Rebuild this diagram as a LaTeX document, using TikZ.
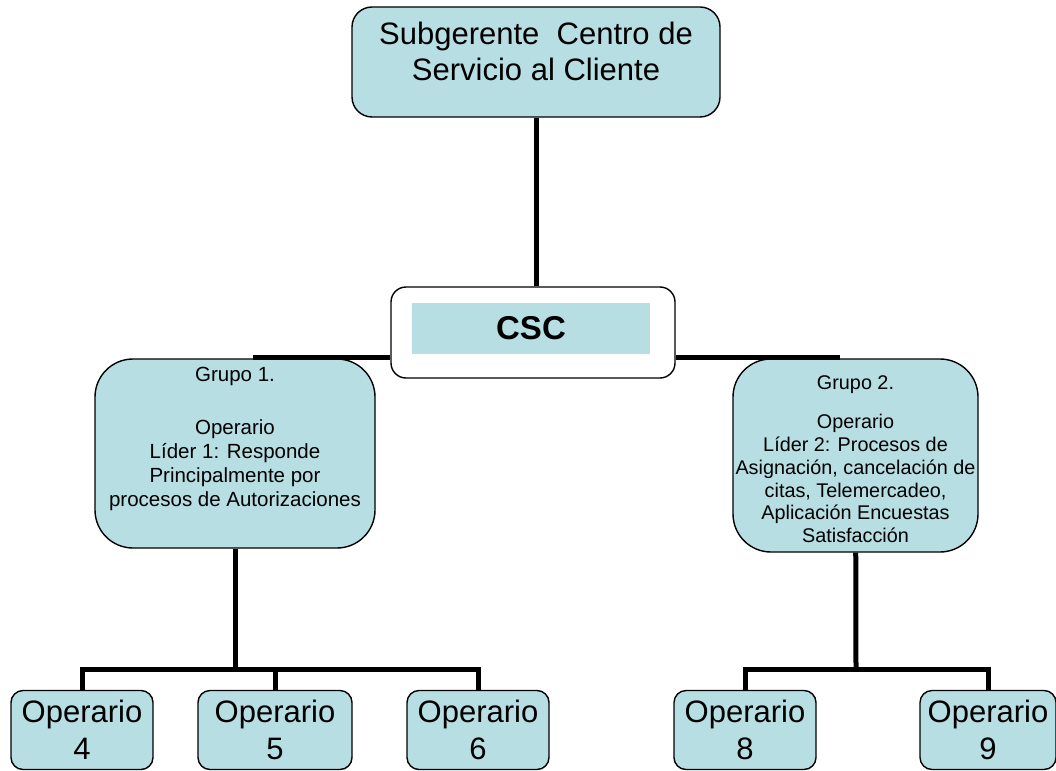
\documentclass[tikz,border=0pt]{standalone}
\usepackage{fontspec}
\setmainfont{Liberation Sans}
\definecolor{azulcaja}{RGB}{183,222,227}

\begin{document}
\begin{tikzpicture}[x=1pt, y=-1pt,
    caja/.style={draw, fill=azulcaja, line width=1.4pt, rounded corners=#1, inner sep=0pt},
    caja/.default=12pt,
    linea/.style={line width=5pt},
    operario/.style={caja, minimum width=142pt, minimum height=79pt, align=center,
                     font=\fontsize{31}{37}\selectfont}]
    \clip (0,0) rectangle (1056,770);
    % cajas de arriba
    \node[caja=20pt, minimum width=368pt, minimum height=110pt] (sub) at (536,62) {};
    \node[align=center, font=\fontsize{31}{36}\selectfont] (subtxt) at (536,51)
          {Subgerente\ \ Centro de\\Servicio al Cliente};
    \node[draw, fill=white, line width=1.4pt, rounded corners=15pt,
          minimum width=284pt, minimum height=91pt] (csc) at (533,332.5) {};
    \node[fill=azulcaja, minimum width=238pt, minimum height=51pt,
          font=\fontsize{33}{38}\selectfont\bfseries] (csctxt) at (531,328) {CSC};
    % grupos
    \node[caja=38pt, minimum width=280pt, minimum height=189pt] (g1) at (235,453.5) {};
    \node[align=center, font=\fontsize{20.5}{24}\selectfont] (g1txt) at (235,439)
          {Grupo 1.\\[29pt]Operario\\Líder 1: Responde\\Principalmente por\\procesos de Autorizaciones};
    \node[caja=38pt, minimum width=245pt, minimum height=193pt] (g2) at (855.5,455.5) {};
    \node[align=center, font=\fontsize{19.8}{22.7}\selectfont] (g2txt) at (855.5,459)
          {Grupo 2.\\[17pt]Operario\\Líder 2: Procesos de\\Asignación, cancelación de\\citas, Telemercadeo,\\Aplicación Encuestas\\Satisfacción};
    % operarios
    \node[operario] (op4) at (82,730) {Operario\\4};
    \node[operario, minimum width=154pt] (op5) at (275,730) {Operario\\5};
    \node[operario] (op6) at (478,730) {Operario\\6};
    \node[operario] (op8) at (745,730) {Operario\\8};
    \node[operario, minimum width=136pt] (op9) at (988,730) {Operario\\9};
    % conectores
    \coordinate (ramaizq) at (253,357);
    \coordinate (ramader) at (840,357);
    \coordinate (barra1) at (235,669);
    \coordinate (barra2) at (856,669);
    \draw[linea] (sub) -- (sub |- csc.north);
    \draw[linea] (csc.west |- ramaizq) -- (ramaizq);
    \draw[linea] (csc.east |- ramader) -- (ramader);
    \draw[linea] (g1) -- (barra1);
    \draw[linea] (op4.north) |- (barra1) -| (op6.north);
    \draw[linea] (op5.north) -- (op5.north |- barra1);
    \draw[linea] (g2) -- (barra2);
    \draw[linea] (op8.north) |- (barra2 -| op9.north) -- (op9.north);
\end{tikzpicture}
\end{document}
